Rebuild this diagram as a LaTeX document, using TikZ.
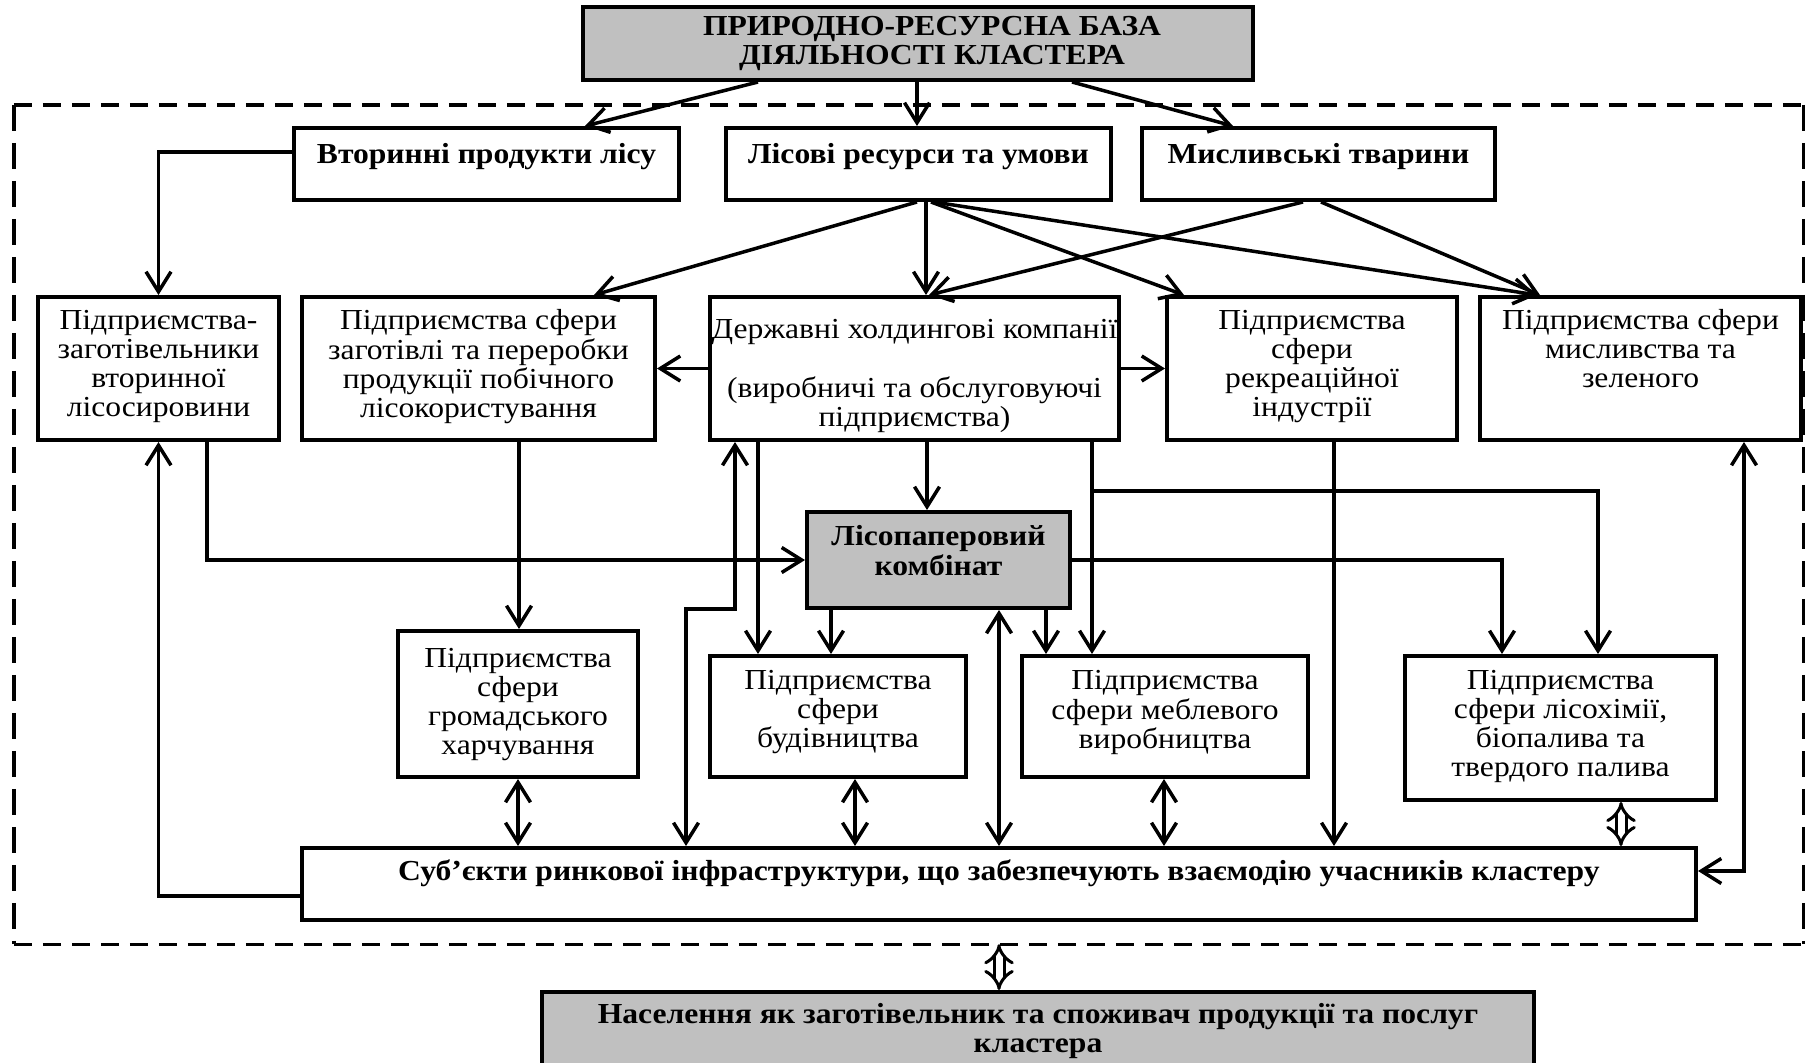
\documentclass[tikz,border=0pt]{standalone}
\usepackage{fontspec}
\setmainfont{Liberation Serif}[FakeStretch=1.09]
\usetikzlibrary{arrows.meta,calc}
\definecolor{boxgray}{RGB}{192,192,192}

\begin{document}
\begin{tikzpicture}[x=1pt,y=-1pt,
  box/.style={draw, line width=4pt, rectangle, inner sep=0pt},
  shaded/.style={box, fill=boxgray},
  txt/.style={anchor=north, align=center, inner sep=0pt, font=\fontsize{29}{29}\selectfont},
  btxt/.style={txt, font=\fontsize{29}{29}\selectfont\bfseries},
  conn/.style={line width=3.5pt, line join=miter, -{Straight Barb[length=20pt,width=25pt]}},
  biconn/.style={line width=3.5pt, line join=miter, {Straight Barb[length=20pt,width=25pt]}-{Straight Barb[length=20pt,width=25pt]}},
  dblconn/.style={double, double distance=7pt, line width=3pt, {Implies}-{Implies}},
  hdash/.style={line width=3.4pt, dash pattern=on 18pt off 11pt},
  vdash/.style={line width=3.4pt, dash pattern=on 26pt off 12pt},
]
\useasboundingbox (0,0) rectangle (1805,1063);

% cluster boundary
\node[minimum width=1789pt, minimum height=839pt, inner sep=0pt] (frame) at (908.5,524.5) {};
\draw[hdash] (frame.north west) -- (frame.north east);
\draw[hdash] (frame.south west) -- (frame.south east);
\draw[vdash] (frame.north west) -- (frame.south west);
\draw[vdash] (frame.north east) -- (frame.south east);

% boxes
\node[shaded, minimum width=670pt, minimum height=73pt] (top) at (918,43.5) {};
\node[box, minimum width=385pt, minimum height=72pt] (vtor) at (486.5,164) {};
\node[box, minimum width=385pt, minimum height=72pt] (lis) at (918.5,164) {};
\node[box, minimum width=353pt, minimum height=72pt] (mysl) at (1318.5,164) {};
\node[box, minimum width=241pt, minimum height=143pt] (A) at (158.5,368.5) {};
\node[box, minimum width=353pt, minimum height=143pt] (B) at (478.5,368.5) {};
\node[box, minimum width=409pt, minimum height=143pt] (C) at (914.5,368.5) {};
\node[box, minimum width=290pt, minimum height=143pt] (D) at (1312,368.5) {};
\node[box, minimum width=321pt, minimum height=143pt] (E) at (1640.5,368.5) {};
\node[shaded, minimum width=263pt, minimum height=96pt] (L) at (938.5,560) {};
\node[box, minimum width=240pt, minimum height=146pt] (G) at (518,704) {};
\node[box, minimum width=256pt, minimum height=121pt] (Bud) at (838,716.5) {};
\node[box, minimum width=286pt, minimum height=121pt] (Meb) at (1165,716.5) {};
\node[box, minimum width=311pt, minimum height=144pt] (Chem) at (1560.5,728) {};
\node[box, minimum width=1394pt, minimum height=72pt] (Bar) at (999,884) {};
\node[shaded, minimum width=992pt, minimum height=78pt] (Nas) at (1038,1031) {};

% texts
\node[btxt] (tTop) at (932,15) {\strut ПРИРОДНО-РЕСУРСНА БАЗА\\ДІЯЛЬНОСТІ КЛАСТЕРА};
\node[btxt] (tVtor) at (486.5,143) {\strut Вторинні продукти лісу};
\node[btxt] (tLis) at (918.5,143) {\strut Лісові ресурси та умови};
\node[btxt] (tMysl) at (1318.5,143) {\strut Мисливські тварини};
\node[txt] (tA) at (158.5,309) {\strut Підприємства-\\заготівельники\\вторинної\\лісосировини};
\node[txt] (tB) at (478.5,309) {\strut Підприємства сфери\\заготівлі та переробки\\продукції побічного\\лісокористування};
\node[txt] (tC) at (914.5,318) {\strut Державні холдингові компанії\\[29pt](виробничі та обслуговуючі\\підприємства)};
\node[txt] (tD) at (1312,309) {\strut Підприємства\\сфери\\рекреаційної\\індустрії};
\node[txt] (tE) at (1640.5,309) {\strut Підприємства сфери\\мисливства та\\зеленого};
\node[btxt] (tL) at (938.5,525) {\strut Лісопаперовий\\комбінат};
\node[txt] (tG) at (518,647) {\strut Підприємства\\сфери\\громадського\\харчування};
\node[txt] (tBud) at (838,669) {\strut Підприємства\\сфери\\будівництва};
\node[txt] (tMeb) at (1165,669) {\strut Підприємства\\сфери меблевого\\виробництва};
\node[txt] (tChem) at (1560.5,669) {\strut Підприємства\\сфери лісохімії,\\біопалива та\\твердого палива};
\node[btxt] (tBar) at (999,860) {\strut Суб’єкти ринкової інфраструктури, що забезпечують взаємодію учасників кластеру};
\node[btxt] (tNas) at (1038,1003) {\strut Населення як заготівельник та споживач продукції та послуг\\кластера};

% resource base to the three resource groups
\draw[conn] ($(top.south)+(-160,0)$) -- ($(vtor.north)+(98.5,0)$);
\draw[conn] ($(top.south)+(-1,0)$) coordinate (c2) -- (c2 |- lis.north);
\draw[conn] ($(top.south)+(154,0)$) -- ($(mysl.north)+(-85.5,0)$);

% resource groups to the enterprises
\draw[conn] ($(vtor.west)+(0,-12)$) -| (A.north);
\draw[conn] ($(lis.south)+(-1.5,0)$) -- ($(B.north)+(115.5,0)$);
\draw[conn] ($(lis.south)+(7.5,0)$) -- ($(C.north)+(11.5,0)$);
\draw[conn] ($(lis.south)+(12.5,0)$) -- ($(D.north)+(-128,0)$);
\draw[conn] ($(lis.south)+(15.5,0)$) -- ($(E.north)+(-103.5,0)$);
\draw[conn] ($(mysl.south)+(-15.5,0)$) -- ($(C.north)+(14.5,0)$);
\draw[conn] ($(mysl.south)+(2.5,0)$) -- ($(E.north)+(-100.5,0)$);

% holding companies
\draw[conn] (C.west) -- (C.west -| B.east);
\draw[conn] (C.east) -- (C.east -| D.west);
\draw[conn] ($(C.south)+(12.5,0)$) coordinate (c13) -- (c13 |- L.north);
\draw[conn] ($(C.south)+(-156.5,0)$) coordinate (c14) -- (c14 |- Bud.north);
\draw[biconn] ($(C.south)+(-179.5,0)$) -- ++(0,167) -| ($(Bar.north)+(-313,0)$);
\draw[conn] ($(C.south)+(177.5,0)$) coordinate (c16) -- (c16 |- Meb.north);
\draw[conn] ($(c16)+(0,49)$) -| ($(Chem.north)+(37.5,0)$);

% pulp and paper mill
\draw[conn] (L.east) -| ($(Chem.north)+(-58.5,0)$);
\draw[conn] ($(L.south)+(107.5,0)$) coordinate (c18) -- (c18 |- Meb.north);
\draw[conn] ($(L.south)+(-107.5,0)$) coordinate (c19) -- (c19 |- Bud.north);
\draw[conn] ($(A.south)+(48.5,0)$) |- (L.west);
\draw[conn] ($(B.south)+(40.5,0)$) coordinate (c21) -- (c21 |- G.north);

% market infrastructure links
\draw[conn] ($(Bar.west)+(0,12)$) -| (A.south);
\draw[biconn] (G.south) -- (G.south |- Bar.north);
\draw[biconn] ($(Bud.south)+(17,0)$) coordinate (c24) -- (c24 |- Bar.north);
\draw[biconn] ($(L.south)+(60.5,0)$) coordinate (c25) -- (c25 |- Bar.north);
\draw[biconn] ($(Meb.south)+(-1,0)$) coordinate (c26) -- (c26 |- Bar.north);
\draw[conn] ($(D.south)+(22,0)$) coordinate (c27) -- (c27 |- Bar.north);
\draw[dblconn] ($(Chem.south)+(60.5,0)$) coordinate (c28) -- (c28 |- Bar.north);
\draw[biconn] ($(Bar.east)+(0,-13)$) -| ($(E.south)+(103.5,0)$);

% population
\draw[dblconn] (Bar.south |- frame.south) -- (Bar.south |- Nas.north);
\end{tikzpicture}
\end{document}
